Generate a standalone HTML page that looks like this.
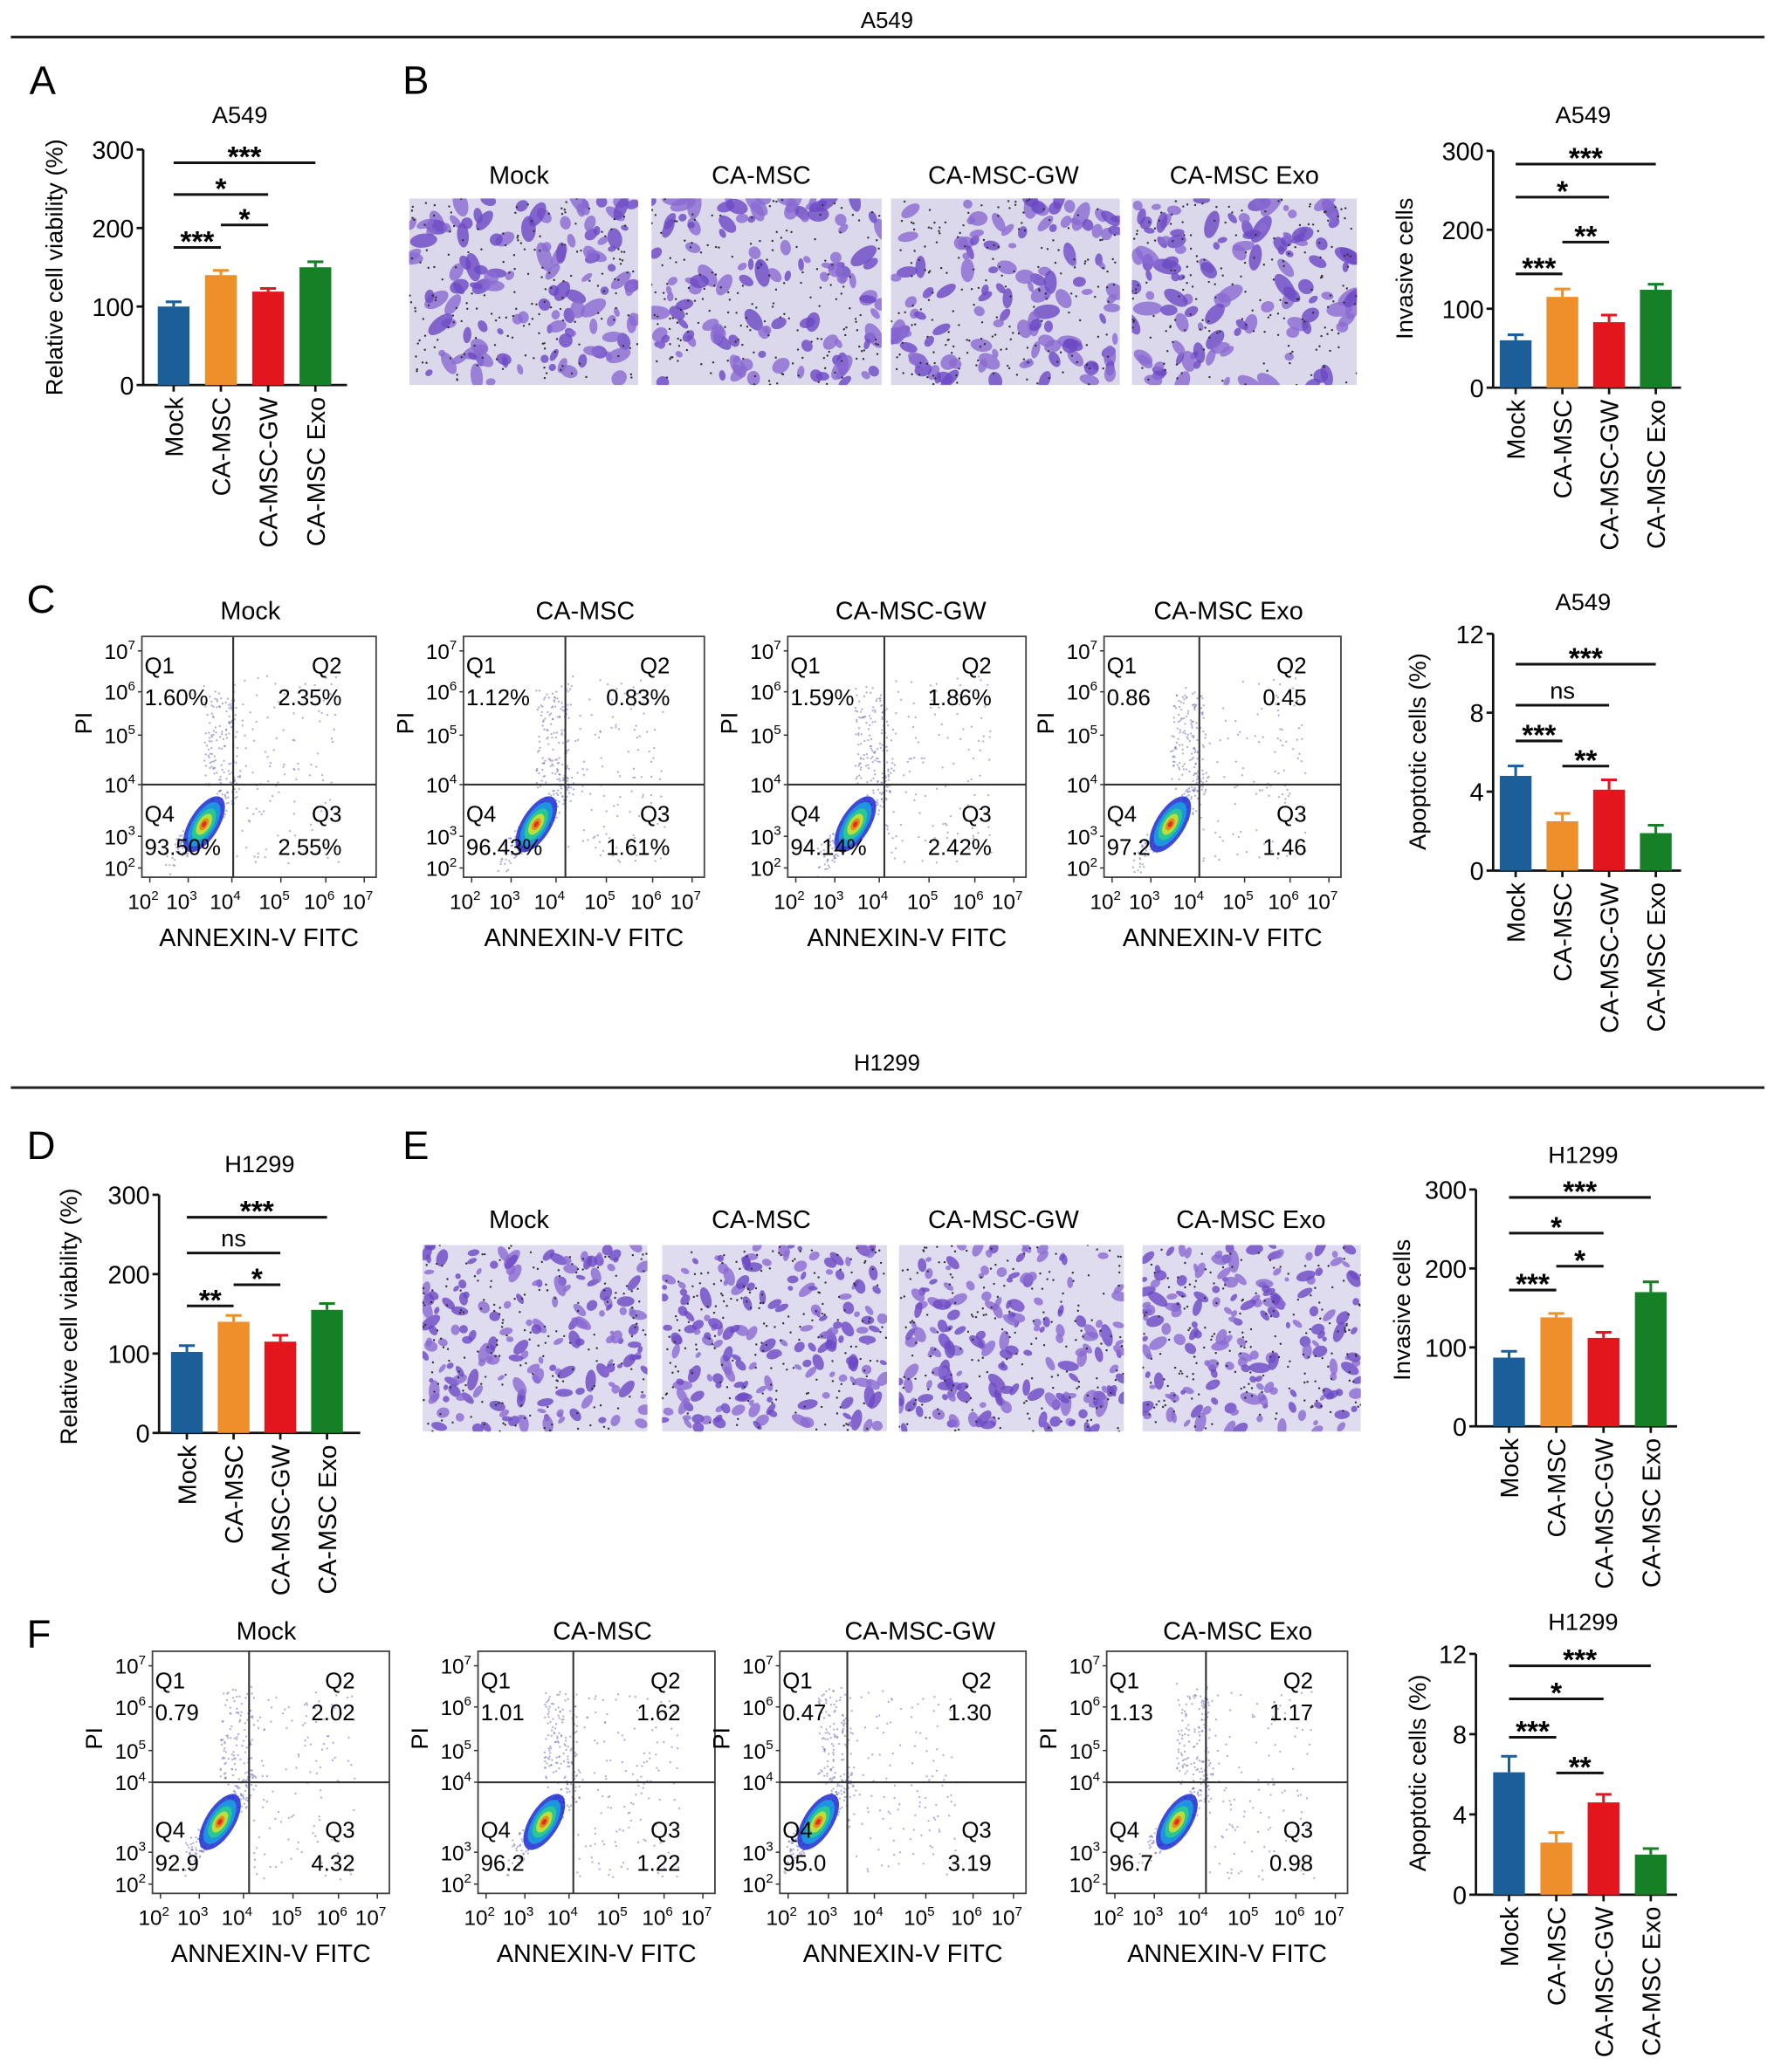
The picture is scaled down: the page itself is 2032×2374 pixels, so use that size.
<!DOCTYPE html>
<html><head><meta charset="utf-8">
<style>
html,body{margin:0;padding:0;background:#fff;}
svg{display:block;font-family:"Liberation Sans",Arial,sans-serif;}
</style></head>
<body>
<svg id="fig" width="2032" height="2374" viewBox="0 0 1340 1566" xmlns="http://www.w3.org/2000/svg">
<rect width="1340" height="1566" fill="#fff"/>
<text x="670" y="21" font-size="17" text-anchor="middle">A549</text>
<line x1="8" y1="28" x2="1333" y2="28" stroke="#222" stroke-width="2"/>
<text x="670" y="809" font-size="17" text-anchor="middle">H1299</text>
<line x1="8" y1="822" x2="1333" y2="822" stroke="#222" stroke-width="2"/>
<text x="22" y="71" font-size="30">A</text>
<text x="304" y="71" font-size="30">B</text>
<text x="20" y="463" font-size="30">C</text>
<text x="20" y="876" font-size="30">D</text>
<text x="304" y="876" font-size="30">E</text>
<text x="20" y="1245" font-size="30">F</text>
</svg>
<script>
// ---- Chart data ----
const categories = ["Mock","CA-MSC","CA-MSC-GW","CA-MSC Exo"];
const aViab = [100,140,119,150];
const aViabErr = [6,6,4,7];
const bInv = [60,115,83,124];
const bInvErr = [7,10,9,7];
const cApop = [4.8,2.5,4.1,1.9];
const cApopErr = [0.5,0.4,0.5,0.4];
const dViab = [102,140,115,155];
const dViabErr = [8,8,8,8];
const eInv = [87,138,112,170];
const eInvErr = [8,5,7,13];
const fApop = [6.1,2.6,4.6,2.0];
const fApopErr = [0.8,0.5,0.4,0.3];
const ticks300 = [0,100,200,300];
const ticks12 = [0,4,8,12];
const cQuad = [["1.60%","2.35%","93.50%","2.55%"],["1.12%","0.83%","96.43%","1.61%"],["1.59%","1.86%","94.14%","2.42%"],["0.86","0.45","97.2","1.46"]];
const fQuad = [["0.79","2.02","92.9","4.32"],["1.01","1.62","96.2","1.22"],["0.47","1.30","95.0","3.19"],["1.13","1.17","96.7","0.98"]];
const logTicks = ["2","3","4","5","6","7"];

const NS="http://www.w3.org/2000/svg";
const svg=document.getElementById('fig');
const colors=["#1b5e98","#ef8f2c","#e3151d","#158026"];
function mk(tag,attrs,parent){const e=document.createElementNS(NS,tag);for(const k in attrs)e.setAttribute(k,attrs[k]);(parent||svg).appendChild(e);return e;}
function txt(x,y,s,size,anchor,parent,extra){const t=mk('text',Object.assign({x:x,y:y,'font-size':size,'text-anchor':anchor||'start'},extra||{}),parent);t.textContent=s;return t;}

function barChart(o){
  const g=mk('g',{});
  
  
  const yS=v=>o.y0-(v-o.min)/(o.max-o.min)*(o.y0-o.yTop);
  const t=txt(o.titleX,o.titleY,o.title,18,'middle',g);
  
  
  mk('line',{x1:o.ax,y1:o.yTop,x2:o.ax,y2:o.y0,stroke:'#111','stroke-width':1.8},g);
  mk('line',{x1:o.ax,y1:o.y0,x2:o.axEnd,y2:o.y0,stroke:'#111','stroke-width':1.8},g);
  o.ticks.forEach(v=>{
    const y=yS(v);
    mk('line',{x1:o.ax-5,y1:y,x2:o.ax,y2:y,stroke:'#111','stroke-width':1.8},g);
    const tl=txt(o.ax-7,y+7,String(v),19,'end',g);
    
    
  });
  const yl=txt(0,0,o.ylabel,18,'middle',g,{transform:`translate(${o.ylx},${o.yly}) rotate(-90)`});
  
  
  const bw=24;
  o.values.forEach((v,i)=>{
    const cx=o.x0+i*o.step;
    const top=yS(v), et=yS(v+o.err[i]);
    mk('line',{x1:cx,y1:et,x2:cx,y2:top,stroke:colors[i],'stroke-width':2},g);
    mk('line',{x1:cx-6,y1:et,x2:cx+6,y2:et,stroke:colors[i],'stroke-width':2},g);
    const b=mk('rect',{x:cx-bw/2,y:top,width:bw,height:o.y0-top,fill:colors[i]},g);
    
    
    mk('line',{x1:cx,y1:o.y0,x2:cx,y2:o.y0+5,stroke:'#111','stroke-width':1.8},g);
    const cl=txt(0,0,categories[i],19,'end',g,{transform:`translate(${cx+7},${o.y0+9}) rotate(-90)`});
    
    
  });
  o.sig.forEach(s=>{
    const xa=o.x0+s[0]*o.step, xb=o.x0+s[1]*o.step;
    mk('line',{x1:xa,y1:s[2],x2:xb,y2:s[2],stroke:'#111','stroke-width':2},g);
    const st=txt((xa+xb)/2,s[2]-5,s[3],s[3]=='ns'?18:22,'middle',g,{'font-weight':s[3]=='ns'?'normal':'bold'});
    if(s[3]!='ns') st.setAttribute('dy','8');
    
    
  });
}
barChart({name:'chart-a-viability',title:'A549',titleX:181,titleY:93,ax:108,axEnd:262,y0:291,yTop:113,min:0,max:300,ticks:ticks300,values:aViab,err:aViabErr,x0:131,step:35.7,ylabel:'Relative cell viability (%)',ylx:47,yly:202,
  sig:[[0,3,123,'***'],[0,2,147,'*'],[1,2,170,'*'],[0,1,187,'***']]});
barChart({name:'chart-b-invasion',title:'A549',titleX:1196,titleY:93,ax:1128,axEnd:1270,y0:293,yTop:114,min:0,max:300,ticks:ticks300,values:bInv,err:bInvErr,x0:1145,step:35.3,ylabel:'Invasive cells',ylx:1067,yly:203,
  sig:[[0,3,124,'***'],[0,2,149,'*'],[1,2,183,'**'],[0,1,207,'***']]});
barChart({name:'chart-c-apoptosis',title:'A549',titleX:1196,titleY:461,ax:1128,axEnd:1270,y0:658,yTop:479,min:0,max:12,ticks:ticks12,values:cApop,err:cApopErr,x0:1145,step:35.3,ylabel:'Apoptotic cells (%)',ylx:1077,yly:568,
  sig:[[0,3,502,'***'],[0,2,533,'ns'],[0,1,560,'***'],[1,2,579,'**']]});
barChart({name:'chart-d-viability',title:'H1299',titleX:196,titleY:886,ax:120,axEnd:272,y0:1083,yTop:903,min:0,max:300,ticks:ticks300,values:dViab,err:dViabErr,x0:141,step:35.3,ylabel:'Relative cell viability (%)',ylx:58,yly:995,
  sig:[[0,3,920,'***'],[0,2,947,'ns'],[1,2,971,'*'],[0,1,987,'**']]});
barChart({name:'chart-e-invasion',title:'H1299',titleX:1196,titleY:879,ax:1115,axEnd:1267,y0:1078,yTop:899,min:0,max:300,ticks:ticks300,values:eInv,err:eInvErr,x0:1140,step:35.7,ylabel:'Invasive cells',ylx:1065,yly:990,
  sig:[[0,3,905,'***'],[0,2,932,'*'],[1,2,957,'*'],[0,1,975,'***']]});
barChart({name:'chart-f-apoptosis',title:'H1299',titleX:1196,titleY:1232,ax:1115,axEnd:1267,y0:1432,yTop:1250,min:0,max:12,ticks:ticks12,values:fApop,err:fApopErr,x0:1140,step:35.7,ylabel:'Apoptotic cells (%)',ylx:1077,yly:1340,
  sig:[[0,3,1259,'***'],[0,2,1284,'*'],[0,1,1313,'***'],[1,2,1340,'**']]});

// seeded rng for texture decoration
let seed=12345;function rnd(){seed=(seed*1103515245+12345)%2147483648;return seed/2147483648;}

// micrograph images
function micro(x,y,w,h,title,tx,ty,dense,name){
  const g=mk('g',{});
  
  
  const cp='cp'+name;
  const cl=mk('clipPath',{id:cp},g); mk('rect',{x:x,y:y,width:w,height:h},cl);
  const inner=mk('g',{'clip-path':`url(#${cp})`},g);
  mk('rect',{x:x,y:y,width:w,height:h,fill:dense?'#e0dcf0':'#dcd8ec'},inner);
  const n=dense?170:120;
  for(let i=0;i<n;i++){
    const cx=x+rnd()*w, cy=y+rnd()*h, r=dense?1.6+rnd()*2.6:2+rnd()*3.6;
    mk('ellipse',{cx:cx,cy:cy,rx:r*(1+rnd()*1.2),ry:r,fill:rnd()<0.5?'#6b48c4':'#8a6ad2',opacity:0.8,transform:`rotate(${rnd()*180} ${cx} ${cy})`},inner);
  }
  for(let i=0;i<180;i++){mk('circle',{cx:x+rnd()*w,cy:y+rnd()*h,r:0.8,fill:'#333'},inner);}
  const t=txt(tx,ty,title,19,'middle',g);
  
  
}
const bImgs=[[309,173,392],[492,174,575],[673,173,758],[855,170,940]];
bImgs.forEach((b,i)=>micro(b[0],150,b[1],141,categories[i],b[2],139,false,'transwell-image-a549-'+i));
const eImgs=[[319,170,392],[500,170,575],[679,170,758],[863,165,945]];
eImgs.forEach((b,i)=>micro(b[0],941,b[1],141,categories[i],b[2],928,true,'transwell-image-h1299-'+i));

// flow cytometry plots
function flow(bx,by,bw,bh,dx,dy,q,title,tx,ty,name){
  const g=mk('g',{});
  
  
  const t=txt(tx,ty,title,19,'middle',g);
  
  
  const cx=dx-22, cy=dy+30;
  // scatter cloud
  for(let i=0;i<420;i++){
    let px,py;
    const r=rnd();
    if(r<0.4){px=cx+(rnd()-0.5)*50+ (rnd()-0.5)*10; py=cy-(px-cx)*1.1+(rnd()-0.5)*25;}
    else if(r<0.7){px=dx-12+(rnd()-0.4)*25; py=dy-rnd()*70+(rnd()-0.5)*10;}
    else {px=dx+rnd()*(bw*0.45); py=by+30+rnd()*(bh-40);}
    if(px>bx&&px<bx+bw&&py>by&&py<by+bh) mk('circle',{cx:px,cy:py,r:0.75,fill:'#6a6ab8',opacity:0.55},g);
  }
  [[24,11,'#1c2bd0'],[19,8.5,'#17a2e0'],[13.5,6.5,'#2bd08a'],[9,4.5,'#d6e22b'],[5,2.8,'#f07a1c'],[2.5,1.5,'#d9251e']].forEach(e=>{
    mk('ellipse',{cx:cx,cy:cy,rx:e[0],ry:e[1],fill:e[2],transform:`rotate(-58 ${cx} ${cy})`,opacity:0.85},g);
  });
  mk('rect',{x:bx,y:by,width:bw,height:bh,fill:'none',stroke:'#444','stroke-width':1.2},g);
  mk('line',{x1:dx,y1:by,x2:dx,y2:by+bh,stroke:'#333','stroke-width':1.4},g);
  mk('line',{x1:bx,y1:dy,x2:bx+bw,y2:dy,stroke:'#333','stroke-width':1.4},g);
  const yp=[bh-7,bh*0.83,dy-by,bh*0.41,bh*0.23,bh*0.06];
  logTicks.forEach((e,i)=>{
    const y=by+(i==2?dy-by:yp[i]);
    const tt=txt(bx-5,y+6,'10',16,'end',g);
    const s=mk('tspan',{dy:-7,'font-size':10},tt);s.textContent=e;
    mk('line',{x1:bx-3,y1:y,x2:bx,y2:y,stroke:'#333'},g);
  });
  const xo=[6,35,68,105,139,168].map(v=>v*bw/177);
  logTicks.forEach((e,i)=>{
    const x=bx+xo[i];
    const tt=txt(x-5,by+bh+24,'10',16,'middle',g);
    const s=mk('tspan',{dy:-7,'font-size':10},tt);s.textContent=e;
    mk('line',{x1:x,y1:by+bh,x2:x,y2:by+bh+4,stroke:'#333'},g);
  });
  const xl=txt(bx+bw/2,by+bh+52,'ANNEXIN-V FITC',19,'middle',g);
  
  
  const pl=txt(0,0,'PI',18,'middle',g,{transform:`translate(${bx-38},${by+bh*0.36}) rotate(-90)`});
  
  
  txt(bx+2,by+28,'Q1',17,'start',g); txt(bx+2,by+52,q[0],17,'start',g);
  txt(bx+bw-26,by+28,'Q2',17,'end',g); txt(bx+bw-26,by+52,q[1],17,'end',g);
  txt(bx+2,by+bh-42,'Q4',17,'start',g); txt(bx+2,by+bh-17,q[2],17,'start',g);
  txt(bx+bw-26,by+bh-42,'Q3',17,'end',g); txt(bx+bw-26,by+bh-17,q[3],17,'end',g);
}
const cBox=[[107,177,176,189],[350,182,427,442],[595,180,668,688],[834,179,906,928]];
cBox.forEach((b,i)=>flow(b[0],481,b[1],182,b[2],593,cQuad[i],categories[i],b[3],468,'flow-plot-a549-'+i));
const fBox=[[115,179,188,201],[361,179,433,455],[589,186,640,695],[836,182,911,935]];
fBox.forEach((b,i)=>flow(b[0],1248,b[1],183,b[2],1347,fQuad[i],categories[i],b[3],1239,'flow-plot-h1299-'+i));
</script>
</body></html>
